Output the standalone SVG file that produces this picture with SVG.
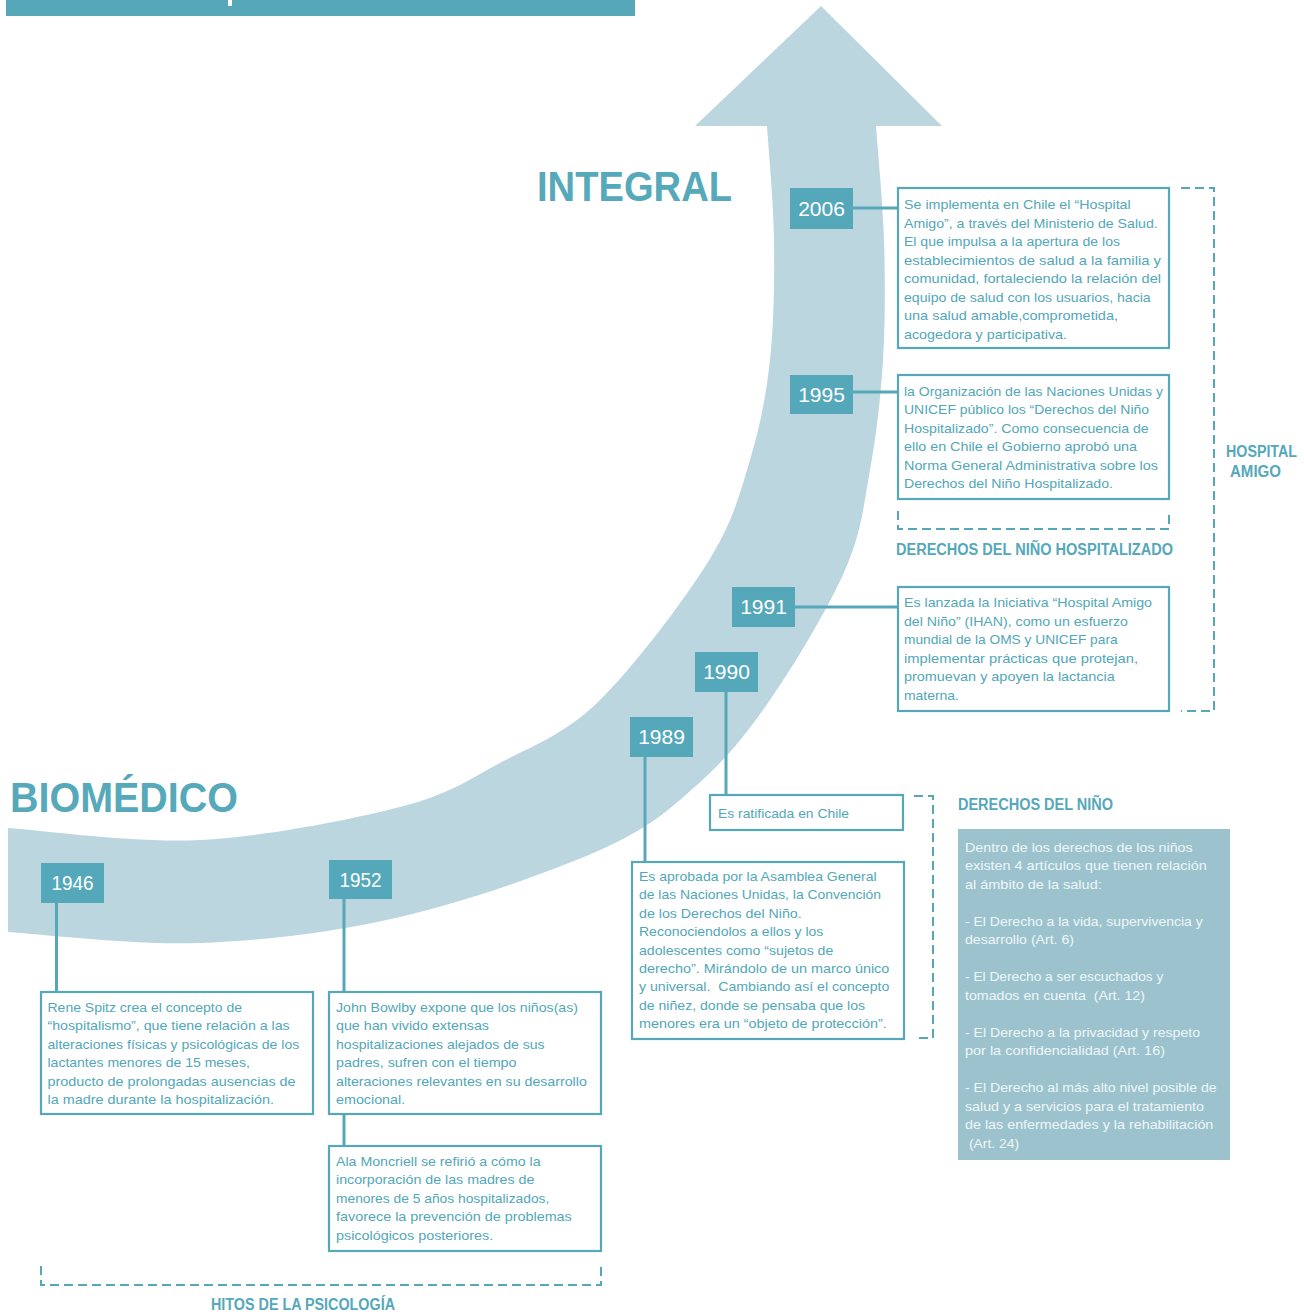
<svg xmlns="http://www.w3.org/2000/svg" width="1304" height="1316" viewBox="0 0 1304 1316">
<style>
.t{font-family:"Liberation Sans",Arial,sans-serif;font-size:13px;fill:#52a7b8}
.w{font-family:"Liberation Sans",Arial,sans-serif;font-size:13px;fill:#eef6f8}
.h{font-family:"Liberation Sans",Arial,sans-serif;font-size:16px;font-weight:bold;fill:#55a8b9}
.big{font-family:"Liberation Sans",Arial,sans-serif;font-size:42px;font-weight:bold;fill:#56a9ba}
.yr{font-family:"Liberation Sans",Arial,sans-serif;font-size:21px;fill:#ffffff;text-anchor:middle}
.yb{fill:#55a8b9}
.box{fill:#ffffff;stroke:#56a8b9;stroke-width:2.2}
.ln{stroke:#56a8b9;stroke-width:3;fill:none}
.dash{stroke:#56a8b9;stroke-width:2;fill:none;stroke-dasharray:9 5}
</style>
<rect x="0" y="0" width="1304" height="1316" fill="#ffffff"/>
<g id="topbar">
<rect x="6" y="0" width="629" height="16" fill="#56a8b9"/>
<rect x="228" y="0" width="4" height="6" fill="#ffffff"/>
</g>
<g id="arrow">
<path fill="#bcd6df" d="M 8,932 C 40,934 134.7,945.5 200,943 C 265.3,940.5 333.3,932.5 400,917 C 466.7,901.5 550.5,872 600,850 C 649.5,828 668.7,810 697,785 C 725.3,760 745.3,735.8 770,700 C 794.7,664.2 828.3,608.3 845,570 C 861.7,531.7 863.7,505 870,470 C 876.3,435 880.7,398.3 883,360 C 885.3,321.7 885.2,279 884,240 C 882.8,201 877.3,145 876,126 L 942,126 L 821,6 L 695,126 L 767,126 C 768.2,145 773.5,201 774,240 C 774.5,279 774,323.3 770,360 C 766,396.7 760,426.7 750,460 C 740,493.3 733,522 708,562 C 683,602 633,668 598,702 C 563,735.7 531.3,746.2 498,764 C 464.7,781.8 450,794 400,807 C 350,820 265.3,836.5 200,840 C 134.7,843.5 40,830 8,828 Z"/>
</g>
<g id="titles">
<text class="big" x="537" y="201" textLength="195" lengthAdjust="spacingAndGlyphs">INTEGRAL</text>
<text class="big" x="10" y="812" textLength="228" lengthAdjust="spacingAndGlyphs">BIOMÉDICO</text>
</g>
<g id="connectors">
<line class="ln" x1="853" y1="208" x2="898" y2="208"/>
<line class="ln" x1="853" y1="392" x2="898" y2="392"/>
<line class="ln" x1="795" y1="607" x2="898" y2="607"/>
<line class="ln" x1="726" y1="691" x2="726" y2="795"/>
<line class="ln" x1="645" y1="756" x2="645" y2="862"/>
<line class="ln" x1="56.5" y1="903" x2="56.5" y2="992"/>
<line class="ln" x1="344" y1="899" x2="344" y2="992"/>
<line class="ln" x1="344" y1="1114" x2="344" y2="1146"/>
</g>
<g id="y2006"><rect class="yb" x="790" y="188" width="63" height="41"/><text class="yr" x="821.5" y="216">2006</text></g>
<g id="y1995"><rect class="yb" x="790" y="375" width="63" height="39"/><text class="yr" x="821.5" y="402">1995</text></g>
<g id="y1991"><rect class="yb" x="732" y="587" width="63" height="40"/><text class="yr" x="763.5" y="614">1991</text></g>
<g id="y1990"><rect class="yb" x="695" y="652" width="63" height="40"/><text class="yr" x="726.5" y="679">1990</text></g>
<g id="y1989"><rect class="yb" x="630" y="717" width="63" height="40"/><text class="yr" x="661.5" y="744">1989</text></g>
<g id="y1946"><rect class="yb" x="41" y="863" width="63" height="40"/><text class="yr" x="72.5" y="890" textLength="42" lengthAdjust="spacingAndGlyphs">1946</text></g>
<g id="y1952"><rect class="yb" x="329" y="860" width="63" height="39"/><text class="yr" x="360.5" y="887" textLength="42" lengthAdjust="spacingAndGlyphs">1952</text></g>
<g id="box2006">
<rect class="box" x="898" y="188" width="271" height="160"/>
<text class="t" x="904" y="209" textLength="226.7" lengthAdjust="spacingAndGlyphs">Se implementa en Chile el “Hospital</text>
<text class="t" x="904" y="227.5" textLength="253.7" lengthAdjust="spacingAndGlyphs">Amigo”, a través del Ministerio de Salud.</text>
<text class="t" x="904" y="246" textLength="216" lengthAdjust="spacingAndGlyphs">El que impulsa a la apertura de los</text>
<text class="t" x="904" y="264.5" textLength="257" lengthAdjust="spacingAndGlyphs">establecimientos de salud a la familia y</text>
<text class="t" x="904" y="283" textLength="257" lengthAdjust="spacingAndGlyphs">comunidad, fortaleciendo la relación del</text>
<text class="t" x="904" y="301.5" textLength="246.7" lengthAdjust="spacingAndGlyphs">equipo de salud con los usuarios, hacia</text>
<text class="t" x="904" y="320" textLength="214" lengthAdjust="spacingAndGlyphs">una salud amable,comprometida,</text>
<text class="t" x="904" y="338.5" textLength="163" lengthAdjust="spacingAndGlyphs">acogedora y participativa.</text>
</g>
<g id="box1995">
<rect class="box" x="898" y="375" width="271" height="124"/>
<text class="t" x="904" y="396" textLength="259" lengthAdjust="spacingAndGlyphs">la Organización de las Naciones Unidas y</text>
<text class="t" x="904" y="414.4" textLength="245" lengthAdjust="spacingAndGlyphs">UNICEF público los “Derechos del Niño</text>
<text class="t" x="904" y="432.8" textLength="244.7" lengthAdjust="spacingAndGlyphs">Hospitalizado”. Como consecuencia de</text>
<text class="t" x="904" y="451.2" textLength="233" lengthAdjust="spacingAndGlyphs">ello en Chile el Gobierno aprobó una</text>
<text class="t" x="904" y="469.6" textLength="254" lengthAdjust="spacingAndGlyphs">Norma General Administrativa sobre los</text>
<text class="t" x="904" y="488" textLength="209" lengthAdjust="spacingAndGlyphs">Derechos del Niño Hospitalizado.</text>
</g>
<g id="grp-hospitalizado">
<path class="dash" d="M898,511 V529 H1169 V511"/>
<text class="h" x="896" y="555" textLength="277" lengthAdjust="spacingAndGlyphs">DERECHOS DEL NIÑO HOSPITALIZADO</text>
</g>
<g id="box1991">
<rect class="box" x="898" y="587" width="271" height="124"/>
<text class="t" x="904" y="607" textLength="248" lengthAdjust="spacingAndGlyphs">Es lanzada la Iniciativa “Hospital Amigo</text>
<text class="t" x="904" y="625.6" textLength="224" lengthAdjust="spacingAndGlyphs">del Niño” (IHAN), como un esfuerzo</text>
<text class="t" x="904" y="644.2" textLength="213.6" lengthAdjust="spacingAndGlyphs">mundial de la OMS y UNICEF para</text>
<text class="t" x="904" y="662.8" textLength="234" lengthAdjust="spacingAndGlyphs">implementar prácticas que protejan,</text>
<text class="t" x="904" y="681.4" textLength="210.8" lengthAdjust="spacingAndGlyphs">promuevan y apoyen la lactancia</text>
<text class="t" x="904" y="700" textLength="55" lengthAdjust="spacingAndGlyphs">materna.</text>
</g>
<g id="grp-hospital-amigo">
<path class="dash" d="M1181,188 H1214 V711 H1181"/>
<text class="h" x="1226" y="457" textLength="71" lengthAdjust="spacingAndGlyphs">HOSPITAL</text>
<text class="h" x="1230" y="477" textLength="51" lengthAdjust="spacingAndGlyphs">AMIGO</text>
</g>
<g id="box1990">
<rect class="box" x="710" y="795" width="193" height="35"/>
<text class="t" x="718" y="818" textLength="131" lengthAdjust="spacingAndGlyphs">Es ratificada en Chile</text>
</g>
<g id="box1989">
<rect class="box" x="632" y="862" width="272" height="177"/>
<text class="t" x="639" y="880.7" textLength="237.7" lengthAdjust="spacingAndGlyphs">Es aprobada por la Asamblea General</text>
<text class="t" x="639" y="899.2" textLength="242" lengthAdjust="spacingAndGlyphs">de las Naciones Unidas, la Convención</text>
<text class="t" x="639" y="917.6" textLength="162.7" lengthAdjust="spacingAndGlyphs">de los Derechos del Niño.</text>
<text class="t" x="639" y="936" textLength="184.3" lengthAdjust="spacingAndGlyphs">Reconociendolos a ellos y los</text>
<text class="t" x="639" y="954.5" textLength="194.3" lengthAdjust="spacingAndGlyphs">adolescentes como “sujetos de</text>
<text class="t" x="639" y="973" textLength="250.3" lengthAdjust="spacingAndGlyphs">derecho”. Mirándolo de un marco único</text>
<text class="t" x="639" y="991.4" textLength="250.3" lengthAdjust="spacingAndGlyphs" xml:space="preserve">y universal.  Cambiando así el concepto</text>
<text class="t" x="639" y="1009.9" textLength="226" lengthAdjust="spacingAndGlyphs">de niñez, donde se pensaba que los</text>
<text class="t" x="639" y="1028.3" textLength="247.7" lengthAdjust="spacingAndGlyphs">menores era un “objeto de protección”.</text>
</g>
<g id="grp-derechos-nino">
<path class="dash" d="M914,796 H933 V1038 H914"/>
<text class="h" x="958" y="810" textLength="155" lengthAdjust="spacingAndGlyphs">DERECHOS DEL NIÑO</text>
</g>
<g id="panel-derechos">
<rect x="958" y="829" width="272" height="331" fill="#9cc3cd"/>
<text class="w" x="965" y="851.7" textLength="227.7" lengthAdjust="spacingAndGlyphs">Dentro de los derechos de los niños</text>
<text class="w" x="965" y="870.2" textLength="241.7" lengthAdjust="spacingAndGlyphs">existen 4 artículos que tienen relación</text>
<text class="w" x="965" y="888.7" textLength="136.7" lengthAdjust="spacingAndGlyphs">al ámbito de la salud:</text>
<text class="w" x="965" y="925.7" textLength="237.7" lengthAdjust="spacingAndGlyphs">- El Derecho a la vida, supervivencia y</text>
<text class="w" x="965" y="944.2" textLength="109" lengthAdjust="spacingAndGlyphs">desarrollo (Art. 6)</text>
<text class="w" x="965" y="981.2" textLength="198.3" lengthAdjust="spacingAndGlyphs">- El Derecho a ser escuchados y</text>
<text class="w" x="965" y="999.7" textLength="180" lengthAdjust="spacingAndGlyphs" xml:space="preserve">tomados en cuenta  (Art. 12)</text>
<text class="w" x="965" y="1036.7" textLength="235" lengthAdjust="spacingAndGlyphs">- El Derecho a la privacidad y respeto</text>
<text class="w" x="965" y="1055.2" textLength="200" lengthAdjust="spacingAndGlyphs">por la confidencialidad (Art. 16)</text>
<text class="w" x="965" y="1092.2" textLength="251.7" lengthAdjust="spacingAndGlyphs">- El Derecho al más alto nivel posible de</text>
<text class="w" x="965" y="1110.7" textLength="239" lengthAdjust="spacingAndGlyphs">salud y a servicios para el tratamiento</text>
<text class="w" x="965" y="1129.2" textLength="248.3" lengthAdjust="spacingAndGlyphs">de las enfermedades y la rehabilitación</text>
<text class="w" x="969" y="1147.7" textLength="50" lengthAdjust="spacingAndGlyphs">(Art. 24)</text>
</g>
<g id="box1946">
<rect class="box" x="41" y="992" width="272" height="122"/>
<text class="t" x="47.5" y="1011.7" textLength="194.5" lengthAdjust="spacingAndGlyphs">Rene Spitz crea el concepto de</text>
<text class="t" x="47.5" y="1030.2" textLength="242.2" lengthAdjust="spacingAndGlyphs">“hospitalismo”, que tiene relación a las</text>
<text class="t" x="47.5" y="1048.6" textLength="251.7" lengthAdjust="spacingAndGlyphs">alteraciones físicas y psicológicas de los</text>
<text class="t" x="47.5" y="1067" textLength="202.3" lengthAdjust="spacingAndGlyphs">lactantes menores de 15 meses,</text>
<text class="t" x="47.5" y="1085.5" textLength="248.1" lengthAdjust="spacingAndGlyphs">producto de prolongadas ausencias de</text>
<text class="t" x="47.5" y="1104" textLength="226.5" lengthAdjust="spacingAndGlyphs">la madre durante la hospitalización.</text>
</g>
<g id="box1952">
<rect class="box" x="329" y="992" width="272" height="122"/>
<text class="t" x="336" y="1011.7" textLength="242" lengthAdjust="spacingAndGlyphs">John Bowlby expone que los niños(as)</text>
<text class="t" x="336" y="1030.2" textLength="153" lengthAdjust="spacingAndGlyphs">que han vivido extensas</text>
<text class="t" x="336" y="1048.6" textLength="208.6" lengthAdjust="spacingAndGlyphs">hospitalizaciones alejados de sus</text>
<text class="t" x="336" y="1067" textLength="180.5" lengthAdjust="spacingAndGlyphs">padres, sufren con el tiempo</text>
<text class="t" x="336" y="1085.5" textLength="250.8" lengthAdjust="spacingAndGlyphs">alteraciones relevantes en su desarrollo</text>
<text class="t" x="336" y="1104" textLength="69.2" lengthAdjust="spacingAndGlyphs">emocional.</text>
</g>
<g id="boxMoncriell">
<rect class="box" x="329" y="1146" width="272" height="105"/>
<text class="t" x="336" y="1166" textLength="204.6" lengthAdjust="spacingAndGlyphs">Ala Moncriell se refirió a cómo la</text>
<text class="t" x="336" y="1184.4" textLength="198.3" lengthAdjust="spacingAndGlyphs">incorporación de las madres de</text>
<text class="t" x="336" y="1202.8" textLength="213.3" lengthAdjust="spacingAndGlyphs">menores de 5 años hospitalizados,</text>
<text class="t" x="336" y="1221.2" textLength="235.8" lengthAdjust="spacingAndGlyphs">favorece la prevención de problemas</text>
<text class="t" x="336" y="1239.6" textLength="157.2" lengthAdjust="spacingAndGlyphs">psicológicos posteriores.</text>
</g>
<g id="grp-hitos">
<path class="dash" d="M41,1266 V1285 H601 V1266"/>
<text class="h" x="211" y="1310" textLength="184" lengthAdjust="spacingAndGlyphs">HITOS DE LA PSICOLOGÍA</text>
</g>
</svg>
